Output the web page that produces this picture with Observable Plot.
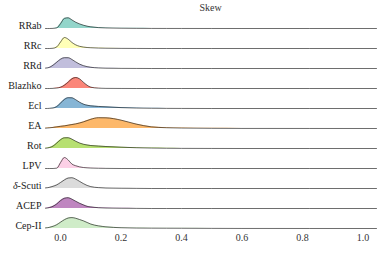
<!DOCTYPE html>
<html>
<head>
<meta charset="utf-8">
<script src="https://cdn.jsdelivr.net/npm/d3@7"></script>
<script src="https://cdn.jsdelivr.net/npm/@observablehq/plot@0.6"></script>
<style>
  html, body { margin: 0; padding: 0; background: #fff; }
  #wrap { position: relative; width: 382px; height: 254px; }
  #title { position: absolute; top: 2px; left: 45px; width: 331px; text-align: center;
           font-family: "Liberation Serif", "DejaVu Serif", serif; font-size: 10px; color: #333; line-height: 12px; }
  svg, svg text { font-family: "Liberation Serif", "DejaVu Serif", serif !important; font-size: 10px; }
</style>
</head>
<body>
<div id="wrap"><div id="title">Skew</div></div>
<script>
const categories = ["RRab", "RRc", "RRd", "Blazhko", "Ecl", "EA", "Rot", "LPV", "δ-Scuti", "ACEP", "Cep-II"];
const colors = ["#8dd3c7", "#ffffb3", "#bebada", "#fb8072", "#80b1d3", "#fdb462", "#b3de69", "#fccde5", "#d9d9d9", "#bc80bd", "#ccebc5"];
const xTicks = [0, 0.2, 0.4, 0.6, 0.8, 1.0];
const xGrid = [-0.05, -0.0375, -0.025, -0.0125, 0, 0.0125, 0.025, 0.0375, 0.05, 0.0625, 0.075, 0.0875, 0.1, 0.125, 0.15, 0.2, 0.25, 0.3, 0.35, 0.4, 0.5, 0.6, 1.045];

const RRab    = [0, 0, 0.01, 0.06, 0.45, 0.92, 0.97, 0.78, 0.57, 0.42, 0.30, 0.21, 0.15, 0.08, 0.05, 0.025, 0.012, 0.006, 0.003, 0.002, 0.001, 0, 0];
const RRc     = [0, 0, 0.02, 0.15, 0.60, 1.00, 0.85, 0.55, 0.33, 0.20, 0.13, 0.09, 0.07, 0.04, 0.025, 0.01, 0.005, 0, 0, 0, 0, 0, 0];
const RRd     = [0.03, 0.10, 0.30, 0.58, 0.85, 0.98, 0.98, 0.82, 0.60, 0.40, 0.26, 0.17, 0.11, 0.05, 0.025, 0.01, 0.005, 0, 0, 0, 0, 0, 0];
const Blazhko = [0, 0, 0.01, 0.04, 0.12, 0.30, 0.58, 0.88, 1.00, 0.88, 0.58, 0.30, 0.12, 0.03, 0.01, 0.003, 0, 0, 0, 0, 0, 0, 0];
const Ecl     = [0, 0.01, 0.04, 0.18, 0.50, 0.82, 0.98, 0.97, 0.80, 0.58, 0.40, 0.30, 0.24, 0.19, 0.15, 0.08, 0.04, 0.02, 0.01, 0.005, 0, 0, 0];
const EA      = [0.03, 0.06, 0.10, 0.15, 0.20, 0.24, 0.30, 0.36, 0.42, 0.50, 0.60, 0.72, 0.84, 0.98, 0.97, 0.76, 0.40, 0.15, 0.07, 0.04, 0.015, 0.005, 0];
const Rot     = [0.02, 0.08, 0.22, 0.50, 0.80, 0.97, 0.98, 0.85, 0.66, 0.50, 0.39, 0.32, 0.27, 0.22, 0.18, 0.12, 0.07, 0.04, 0.02, 0.01, 0.004, 0, 0];
const LPV     = [0, 0, 0, 0.03, 0.55, 1.00, 0.78, 0.40, 0.25, 0.15, 0.09, 0.06, 0.04, 0.02, 0.01, 0, 0, 0, 0, 0, 0, 0, 0];
const dScuti  = [0.05, 0.10, 0.20, 0.33, 0.55, 0.78, 0.95, 0.98, 0.85, 0.65, 0.45, 0.28, 0.17, 0.08, 0.04, 0.02, 0.01, 0, 0, 0, 0, 0, 0];
const ACEP    = [0.02, 0.08, 0.20, 0.42, 0.72, 0.93, 0.98, 0.85, 0.66, 0.48, 0.33, 0.20, 0.14, 0.07, 0.04, 0.02, 0.01, 0, 0, 0, 0, 0, 0];
const CepII   = [0.05, 0.10, 0.20, 0.35, 0.58, 0.80, 0.95, 0.99, 0.93, 0.82, 0.70, 0.55, 0.40, 0.24, 0.15, 0.07, 0.04, 0.03, 0.025, 0.02, 0.01, 0.003, 0];

const seriesList = [RRab, RRc, RRd, Blazhko, Ecl, EA, Rot, LPV, dScuti, ACEP, CepII];
const rows = categories.flatMap((name, k) => seriesList[k].map((v, i) => ({name, x: xGrid[i], d: v})));

const chart = Plot.plot({
  width: 382,
  height: 254,
  marginLeft: 45,
  marginRight: 6,
  marginTop: 4.7,
  marginBottom: 23,
  style: {fontFamily: "Liberation Serif", fontSize: "10px", color: "#333", background: "transparent"},
  x: {domain: [-0.05, 1.045], ticks: xTicks, tickFormat: d3.format(".1f"), tickSize: 0, tickPadding: 5, label: null},
  y: {domain: [0, 1.82], axis: null},
  fy: {domain: categories, padding: 0, axis: null, label: null},
  color: {domain: categories, range: colors},
  marks: [
    Plot.areaY(rows, {x: "x", y: "d", fy: "name", fill: "name", fillOpacity: 0.95, curve: "monotone-x"}),
    Plot.lineY(rows, {x: "x", y: "d", fy: "name", stroke: "#1a1a1a", strokeOpacity: 0.8, strokeWidth: 0.8, curve: "monotone-x"}),
    Plot.text(categories, {fy: d => d, text: d => d, frameAnchor: "bottom-left", dx: -4, textAnchor: "end", fill: "#222"})
  ]
});
document.getElementById("wrap").prepend(chart);
// italicise the Greek delta in the δ-Scuti label (text stays real text)
d3.select(chart).selectAll("text").each(function() {
  const t = this.textContent;
  if (t === "δ-Scuti") {
    const sel = d3.select(this);
    sel.text(null);
    sel.append("tspan").attr("font-style", "italic").text("δ");
    sel.append("tspan").text("-Scuti");
  }
});
</script>
</body>
</html>
